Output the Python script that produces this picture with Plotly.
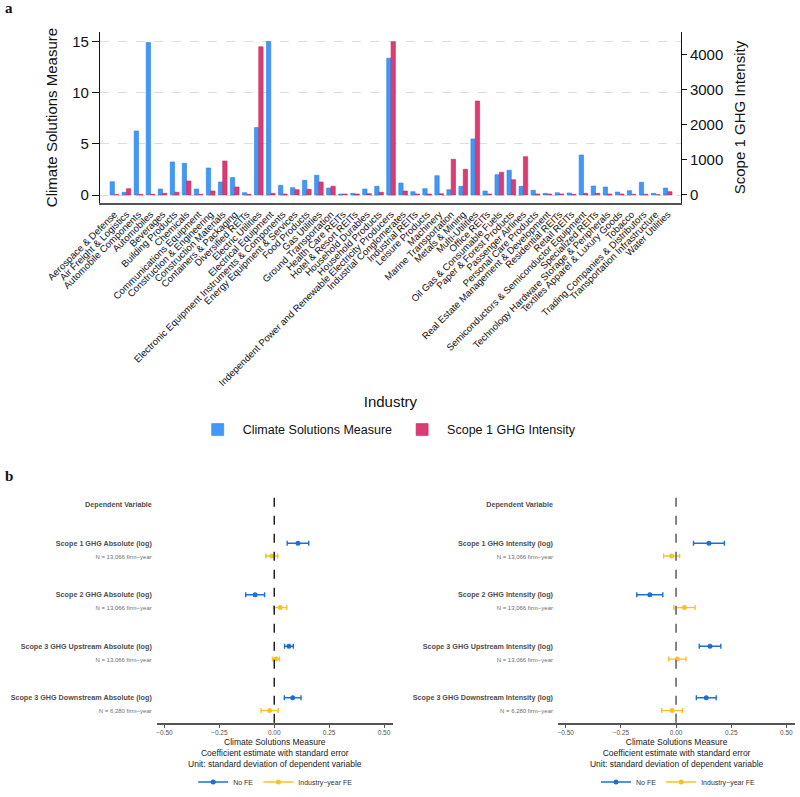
import plotly.graph_objects as go

# ---------------- Panel a data ----------------
industries = [
    "Aerospace & Defense", "Air Freight & Logistics", "Automobile Components", "Automobiles",
    "Beverages", "Building Products", "Chemicals", "Communications Equipment",
    "Construction & Engineering", "Construction Materials", "Containers & Packaging",
    "Diversified REITs", "Electric Utilities", "Electrical Equipment",
    "Electronic Equipment Instruments & Components", "Energy Equipment & Services",
    "Food Products", "Gas Utilities", "Ground Transportation", "Health Care REITs",
    "Hotel & Resort REITs", "Household Durables", "Household Products",
    "Independent Power and Renewable Electricity Producers", "Industrial Conglomerates",
    "Industrial REITs", "Leisure Products", "Machinery", "Marine Transportation",
    "Metals & Mining", "Multi-Utilities", "Office REITs", "Oil Gas & Consumable Fuels",
    "Paper & Forest Products", "Passenger Airlines", "Personal Care Products",
    "Real Estate Management & Development", "Residential REITs", "Retail REITs",
    "Semiconductors & Semiconductor Equipment", "Specialized REITs",
    "Technology Hardware Storage & Peripherals", "Textiles Apparel & Luxury Goods",
    "Tobacco", "Trading Companies & Distributors", "Transportation Infrastructure",
    "Water Utilities",
]
climate_solutions = [
    1.30, 0.26, 6.26, 14.9, 0.59, 3.23, 3.10, 0.59, 2.64, 1.27, 1.70, 0.23, 6.59, 15.0,
    0.95, 0.72, 1.44, 1.93, 0.68, 0.10, 0.16, 0.59, 0.85, 13.37, 1.17, 0.33, 0.62, 1.89,
    0.52, 0.85, 5.48, 0.39, 1.99, 2.42, 0.85, 0.46, 0.16, 0.22, 0.20, 3.91, 0.88, 0.78,
    0.29, 0.42, 1.24, 0.16, 0.68,
]
scope1_intensity = [
    15, 180, 20, 20, 48, 77, 398, 20, 114, 967, 228, 20, 4219, 48,
    28, 151, 162, 370, 248, 28, 28, 38, 76, 4361, 114, 28, 28, 38,
    1016, 731, 2674, 28, 646, 435, 1090, 28, 28, 28, 20, 48, 48, 28,
    28, 20, 20, 10, 94,
]
left_ticks = [0, 5, 10, 15]
right_ticks = [0, 1000, 2000, 3000, 4000]

# ---------------- Panel b data ----------------
abs_vars = ["Scope 1 GHG Absolute (log)", "Scope 2 GHG Absolute (log)",
            "Scope 3 GHG Upstream Absolute (log)", "Scope 3 GHG Downstream Absolute (log)"]
int_vars = ["Scope 1 GHG Intensity (log)", "Scope 2 GHG Intensity (log)",
            "Scope 3 GHG Upstream Intensity (log)", "Scope 3 GHG Downstream Intensity (log)"]
n_obs = ["N = 13,066 firm\u2212year", "N = 13,066 firm\u2212year",
         "N = 13,066 firm\u2212year", "N = 6,280 firm\u2212year"]
abs_nofe_coef = [0.108, -0.087, 0.067, 0.084]
abs_nofe_se = [0.049, 0.043, 0.020, 0.038]
abs_indfe_coef = [-0.011, 0.027, 0.008, -0.021]
abs_indfe_se = [0.027, 0.030, 0.016, 0.039]
int_nofe_coef = [0.149, -0.119, 0.154, 0.137]
int_nofe_se = [0.070, 0.059, 0.049, 0.045]
int_indfe_coef = [-0.020, 0.038, 0.006, -0.018]
int_indfe_se = [0.036, 0.048, 0.039, 0.047]
b_xticks = [-0.5, -0.25, 0.0, 0.25, 0.5]

FONT = "Liberation Sans, Arial, sans-serif"
BLUE_BAR = "#4298f7"
RED_BAR = "#dc3c74"
BLUE_PT = "#1c70d3"
YEL_PT = "#f8c224"

fig = go.Figure()

# ---- Panel a bars ----
fig.add_trace(go.Bar(
    x=industries, y=climate_solutions, name="Climate Solutions Measure",
    marker=dict(color=BLUE_BAR, line=dict(color="#2f82e6", width=0.6)),
    width=0.36, offset=-0.36, xaxis="x", yaxis="y", legend="legend",
))
fig.add_trace(go.Bar(
    x=industries, y=scope1_intensity, name="Scope 1 GHG Intensity",
    marker=dict(color=RED_BAR, line=dict(color="#c42a60", width=0.6)),
    width=0.36, offset=0.0, xaxis="x", yaxis="y2", legend="legend",
))

# ---- Panel b ----
n = len(abs_vars)
label_y = [n - i for i in range(n)]
nobs_y = [n - i - 0.25 for i in range(n)]
header_y = n + 0.75


def add_panel(xa, ya, leg, nofe_c, nofe_s, ind_c, ind_s):
    fig.add_trace(go.Scatter(
        x=nofe_c, y=label_y, mode="markers", showlegend=False,
        marker=dict(color=BLUE_PT, size=5),
        error_x=dict(type="data", array=nofe_s, color=BLUE_PT, thickness=1.4, width=2.5),
        xaxis=xa, yaxis=ya,
    ))
    fig.add_trace(go.Scatter(
        x=ind_c, y=nobs_y, mode="markers", showlegend=False,
        marker=dict(color=YEL_PT, size=5),
        error_x=dict(type="data", array=ind_s, color=YEL_PT, thickness=1.4, width=2.5),
        xaxis=xa, yaxis=ya,
    ))
    fig.add_trace(go.Scatter(
        x=[None], y=[None], mode="lines+markers", name="No FE",
        line=dict(color=BLUE_PT, width=1.4), marker=dict(color=BLUE_PT, size=5),
        xaxis=xa, yaxis=ya, legend=leg,
    ))
    fig.add_trace(go.Scatter(
        x=[None], y=[None], mode="lines+markers", name="Industry\u2212year FE",
        line=dict(color=YEL_PT, width=1.4), marker=dict(color=YEL_PT, size=5),
        xaxis=xa, yaxis=ya, legend=leg,
    ))


add_panel("x2", "y3", "legend2", abs_nofe_coef, abs_nofe_se, abs_indfe_coef, abs_indfe_se)
add_panel("x3", "y4", "legend3", int_nofe_coef, int_nofe_se, int_indfe_coef, int_indfe_se)


def y_ticks(names):
    vals = [header_y]
    texts = ["<b>Dependent Variable</b>"]
    for i, (nm, nn) in enumerate(zip(names, n_obs)):
        vals += [label_y[i], nobs_y[i]]
        texts += [f"<b>{nm}</b>",
                  f"<span style='font-size:6px;font-weight:normal;color:#6e6e6e'>{nn}</span>"]
    return vals, texts


abs_tv, abs_tt = y_ticks(abs_vars)
int_tv, int_tt = y_ticks(int_vars)

b_xtitle = ("Climate Solutions Measure<br>Coefficient estimate with standard error"
            "<br>Unit: standard deviation of dependent variable")

b_xaxis_common = dict(
    range=[-0.535, 0.54], tickvals=b_xticks, tickformat=".2f",
    showline=True, linecolor="#555555", linewidth=1.6, ticks="outside", ticklen=3,
    tickcolor="#555555", tickfont=dict(size=6.5, color="#555555", family=FONT),
    showgrid=False, zeroline=False, automargin=False,
    title=dict(text=b_xtitle, font=dict(size=8.5, color="#1a1a1a", family=FONT), standoff=4),
)
b_yaxis_common = dict(
    range=[0.515, 4.98], showgrid=False, zeroline=False, showline=False, ticks="",
    tickfont=dict(size=7.2, color="#4d4d4d", family=FONT), ticklabelstandoff=4,
    automargin=False,
)

fig.update_layout(
    width=800, height=797,
    margin=dict(l=0, r=0, t=0, b=0),
    paper_bgcolor="white", plot_bgcolor="white",
    font=dict(family=FONT, color="#111111"),
    barmode="overlay",
    xaxis=dict(
        domain=[0.125, 0.851], anchor="y", type="category",
        range=[-1.2, 47.09], tickangle=-45, ticks="",
        tickfont=dict(size=9.6, color="#111111", family=FONT),
        showline=True, linecolor="#555555", linewidth=2, mirror=False,
        showgrid=False, zeroline=False, automargin=False,
        title=dict(text="Industry", font=dict(size=15, color="#111111", family=FONT), standoff=9),
    ),
    yaxis=dict(
        domain=[0.7453, 0.9598], anchor="x", range=[-0.78, 15.92],
        tickvals=left_ticks, ticks="outside", ticklen=7, tickcolor="#111111",
        tickfont=dict(size=15, color="#111111", family=FONT),
        showline=True, linecolor="#111111", linewidth=1.2,
        showgrid=True, gridcolor="#dddddd", griddash="dash", gridwidth=1,
        zeroline=False, automargin=False,
        title=dict(text="Climate Solutions Measure", font=dict(size=15, color="#111111", family=FONT), standoff=10),
    ),
    yaxis2=dict(
        overlaying="y", side="right", anchor="x", range=[-228, 4637],
        tickvals=right_ticks, ticks="outside", ticklen=5, tickcolor="#111111",
        tickfont=dict(size=15, color="#111111", family=FONT),
        showline=True, linecolor="#111111", linewidth=1.2,
        showgrid=False, zeroline=False, automargin=False,
        title=dict(text="Scope 1 GHG Intensity", font=dict(size=15, color="#111111", family=FONT), standoff=12),
    ),
    xaxis2=dict(domain=[0.196, 0.491], anchor="y3", **b_xaxis_common),
    yaxis3=dict(domain=[0.0932, 0.3818], anchor="x2", tickvals=abs_tv, ticktext=abs_tt, **b_yaxis_common),
    xaxis3=dict(domain=[0.6975, 0.994], anchor="y4", **b_xaxis_common),
    yaxis4=dict(domain=[0.0932, 0.3818], anchor="x3", tickvals=int_tv, ticktext=int_tt, **b_yaxis_common),
    legend=dict(
        orientation="h", x=0.484, xanchor="center", y=0.4605, yanchor="middle",
        font=dict(size=12.5, color="#111111", family=FONT), itemwidth=40,
        bgcolor="rgba(0,0,0,0)", tracegroupgap=0,
    ),
    legend2=dict(
        orientation="h", x=0.344, xanchor="center", y=0.0188, yanchor="middle",
        font=dict(size=7, color="#333333", family=FONT), itemwidth=30,
        bgcolor="rgba(0,0,0,0)",
    ),
    legend3=dict(
        orientation="h", x=0.8475, xanchor="center", y=0.0188, yanchor="middle",
        font=dict(size=7, color="#333333", family=FONT), itemwidth=30,
        bgcolor="rgba(0,0,0,0)",
    ),
    shapes=[
        dict(type="line", xref="x2", yref="y3 domain", x0=0, x1=0, y0=0, y1=1,
             line=dict(color="#222222", width=1.5, dash="dash")),
        dict(type="line", xref="x3", yref="y4 domain", x0=0, x1=0, y0=0, y1=1,
             line=dict(color="#777777", width=1.8, dash="dash")),
    ],
    annotations=[
        dict(text="<b>a</b>", xref="paper", yref="paper", x=0.004, y=1 - 8 / 797,
             xanchor="left", yanchor="middle", showarrow=False,
             font=dict(size=15, family="Liberation Serif, DejaVu Serif, serif", color="#111111")),
        dict(text="<b>b</b>", xref="paper", yref="paper", x=0.004, y=1 - 476 / 797,
             xanchor="left", yanchor="middle", showarrow=False,
             font=dict(size=15, family="Liberation Serif, DejaVu Serif, serif", color="#111111")),
    ],
)

fig.write_html("out.html")
